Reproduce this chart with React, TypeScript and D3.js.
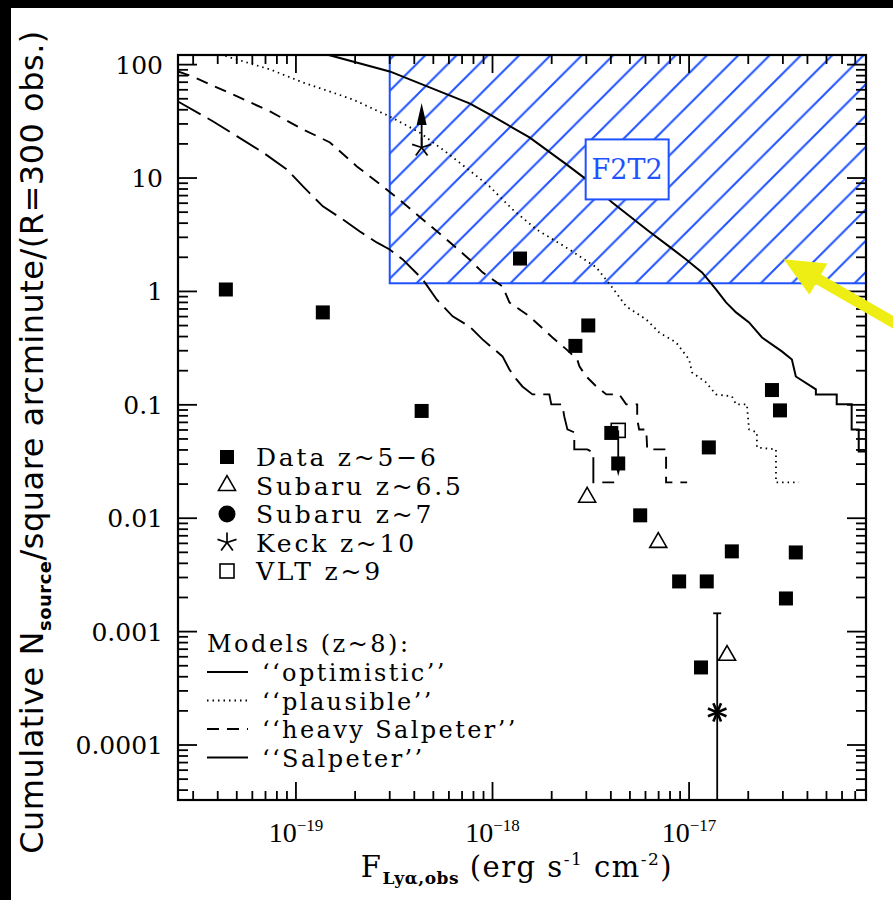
import React from "react";
import * as d3 from "d3";

const W = 893;
const H = 900;
// plot frame in px
const PL = 178;
const PR = 866;
const PT = 55;
const PB = 800;

const fluxDomain = [10 ** -19.6, 10 ** -16.1];
const countDomain = [10 ** -4.485, 10 ** 2.085];

// observed points
const dataFlux = [4.4e-20, 1.37e-19, 4.36e-19, 1.38e-18, 2.64e-18, 3.07e-18, 4.02e-18, 4.36e-18, 5.64e-18, 8.9e-18, 1.23e-17, 1.26e-17, 1.65e-17, 2.64e-17, 2.9e-17, 3.11e-17, 3.49e-17, 1.15e-17];
const dataN = [1.04, 0.653, 0.0883, 1.95, 0.331, 0.501, 0.0565, 0.0304, 0.0106, 0.00277, 0.00277, 0.0421, 0.0051, 0.135, 0.0893, 0.00196, 0.00499, 0.000483];

const subaru65Flux = [3.03e-18, 6.97e-18, 1.56e-17];
const subaru65N = [0.0153, 0.00612, 0.000617];

const keckFlux = 4.36e-19;
const keckN = 18.6;
const keckArrowTo = 46;

const vltFlux = 4.36e-18;
const vltN = 0.0595;
const vltArrowTo = 0.0234;

const burstFlux = 1.39e-17;
const burstN = 0.000194;
const burstErrHigh = 0.00145;

// F2T2 survey region
const f2t2MinFlux = 3.0e-19;
const f2t2MinN = 1.18;
const f2t2LabelAt = [10 ** -17.315, 10 ** 1.076];
const arrowTipAt = [3.03e-17, 1.92];

// model curves, [log10 F, log10 N]
const optimistic = [
  [-18.843, 2.09], [-18.523, 1.94], [-18.117, 1.658], [-18.015, 1.561], [-17.812, 1.358],
  [-17.624, 1.12], [-17.523, 0.988], [-17.391, 0.785], [-17.203, 0.529], [-17.102, 0.397],
  [-17.015, 0.282], [-16.934, 0.168], [-16.863, 0.018], [-16.812, -0.097], [-16.761, -0.185],
  [-16.695, -0.273], [-16.629, -0.406], [-16.528, -0.529], [-16.477, -0.6], [-16.457, -0.75],
  [-16.355, -0.864], [-16.355, -0.908], [-16.249, -0.908], [-16.249, -0.996], [-16.173, -0.996],
  [-16.173, -1.217], [-16.137, -1.217], [-16.137, -1.411], [-16.1, -1.411],
];
const plausible = [
  [-19.386, 2.09], [-19.132, 1.958], [-18.964, 1.843], [-18.711, 1.693], [-18.523, 1.543],
  [-18.371, 1.402], [-18.234, 1.226], [-18.117, 1.067], [-18.015, 0.926], [-17.898, 0.723],
  [-17.777, 0.547], [-17.609, 0.37], [-17.472, 0.212], [-17.391, 0.035], [-17.32, -0.132],
  [-17.218, -0.247], [-17.152, -0.362], [-17.066, -0.45], [-17.0, -0.6], [-16.985, -0.714],
  [-16.914, -0.802], [-16.863, -0.908], [-16.782, -0.926], [-16.761, -0.996], [-16.706, -0.996],
  [-16.695, -1.217], [-16.655, -1.243], [-16.655, -1.376], [-16.558, -1.393], [-16.558, -1.684],
  [-16.442, -1.684],
];
const heavySalpeter = [
  [-19.6, 1.94], [-19.528, 1.896], [-19.299, 1.72], [-19.132, 1.587], [-18.964, 1.429],
  [-18.827, 1.314], [-18.69, 1.102], [-18.558, 0.926], [-18.457, 0.785], [-18.355, 0.635],
  [-18.234, 0.459], [-18.117, 0.282], [-18.051, 0.168], [-17.949, 0.044], [-17.914, -0.097],
  [-17.812, -0.22], [-17.695, -0.406], [-17.624, -0.511], [-17.569, -0.6], [-17.558, -0.661],
  [-17.523, -0.75], [-17.472, -0.838], [-17.421, -0.908], [-17.355, -0.908], [-17.32, -0.996],
  [-17.264, -0.996], [-17.264, -1.129], [-17.254, -1.217], [-17.218, -1.217], [-17.213, -1.393],
  [-17.117, -1.393], [-17.117, -1.684], [-17.01, -1.684],
];
const salpeter = [
  [-19.6, 1.675], [-19.421, 1.499], [-19.299, 1.367], [-19.168, 1.226], [-19.046, 1.076],
  [-18.964, 0.926], [-18.863, 0.75], [-18.761, 0.635], [-18.675, 0.529], [-18.589, 0.432],
  [-18.523, 0.37], [-18.457, 0.282], [-18.355, 0.106], [-18.284, -0.071], [-18.203, -0.22],
  [-18.117, -0.309], [-18.051, -0.423], [-17.949, -0.573], [-17.914, -0.688], [-17.878, -0.776],
  [-17.848, -0.838], [-17.797, -0.908], [-17.711, -0.908], [-17.701, -0.996], [-17.645, -0.996],
  [-17.635, -1.102], [-17.619, -1.217], [-17.584, -1.243], [-17.584, -1.393], [-17.518, -1.393],
  [-17.487, -1.42], [-17.487, -1.684], [-17.381, -1.684],
];

const yTickLabels = ["0.0001", "0.001", "0.01", "0.1", "1", "10", "100"];
const xTickExps = [-19, -18, -17];

const legendPoints = ["Data z~5\u22126", "Subaru z~6.5", "Subaru z~7", "Keck z~10", "VLT z~9"];
const legendPointSymbols = ["square", "triangle", "circle", "star", "openSquare"];
const legendModels = ["\u2018\u2018optimistic\u2019\u2019", "\u2018\u2018plausible\u2019\u2019", "\u2018\u2018heavy Salpeter\u2019\u2019", "\u2018\u2018Salpeter\u2019\u2019"];

const BLUE = "#1f52ff";
const serif = "'DejaVu Serif', serif";
const times = "'Liberation Serif', serif";
const sans = "'DejaVu Sans', sans-serif";

const modelStyles = [
  { data: optimistic, dash: "none", width: 2 },
  { data: plausible, dash: "1.5,4", width: 1.8 },
  { data: heavySalpeter, dash: "12,8", width: 1.9 },
  { data: salpeter, dash: "26,8", width: 1.9 },
];

function Symbol({ kind, cx, cy }: { kind: string; cx: number; cy: number }) {
  if (kind === "square") return <rect x={cx - 7} y={cy - 7} width={14} height={14} fill="#000" />;
  if (kind === "openSquare")
    return <rect x={cx - 7} y={cy - 7} width={14} height={14} fill="none" stroke="#000" strokeWidth={1.6} />;
  if (kind === "circle") return <circle cx={cx} cy={cy} r={8.5} fill="#000" />;
  if (kind === "triangle") {
    const s = 17;
    const pts = [[cx, cy - s * 0.58], [cx + s / 2, cy + s * 0.29], [cx - s / 2, cy + s * 0.29]];
    return <polygon points={pts.map((p) => p.join(",")).join(" ")} fill="none" stroke="#000" strokeWidth={1.6} />;
  }
  if (kind === "star") {
    return (
      <g stroke="#000" strokeWidth={1.7}>
        {d3.range(5).map((i) => {
          const a = -Math.PI / 2 + (i * 2 * Math.PI) / 5;
          return <line key={i} x1={cx} y1={cy} x2={cx + 10 * Math.cos(a)} y2={cy + 10 * Math.sin(a)} />;
        })}
      </g>
    );
  }
  // 8-armed asterisk
  return (
    <g stroke="#000" strokeWidth={2.6}>
      {d3.range(8).map((i) => {
        const a = (i * Math.PI) / 4 + Math.PI / 8;
        return <line key={i} x1={cx} y1={cy} x2={cx + 10 * Math.cos(a)} y2={cy + 10 * Math.sin(a)} />;
      })}
    </g>
  );
}

export default function App() {
  const x = d3.scaleLog().domain(fluxDomain).range([PL, PR]);
  const y = d3.scaleLog().domain(countDomain).range([PB, PT]);
  const line = d3
    .line<number[]>()
    .x((d) => x(10 ** d[0]))
    .y((d) => y(10 ** d[1]));

  const xMinor: number[] = [];
  for (let e = -20; e <= -17; e++)
    for (let m = 2; m <= 9; m++) {
      const v = m * 10 ** e;
      if (v > fluxDomain[0] && v < fluxDomain[1]) xMinor.push(v);
    }
  const yMajor = d3.range(-4, 3).map((e) => 10 ** e);
  const yMinor: number[] = [];
  for (let e = -5; e <= 2; e++)
    for (let m = 2; m <= 9; m++) {
      const v = m * 10 ** e;
      if (v > countDomain[0] && v < countDomain[1]) yMinor.push(v);
    }
  const xMajor = xTickExps.map((e) => 10 ** e);

  const bx = x(f2t2MinFlux);
  const by = y(f2t2MinN);

  // yellow arrow geometry
  const tipX = x(arrowTipAt[0]);
  const tipY = y(arrowTipAt[1]);
  const ux = 0.867, uy = 0.498;
  const px = -uy, py = ux;
  const headL = 40, headW = 18, shaftW = 5.5, shaftL = 170;
  const bcx = tipX + headL * ux, bcy = tipY + headL * uy;
  const arrowPts = [
    [tipX, tipY],
    [bcx + headW * px, bcy + headW * py],
    [bcx + shaftW * px, bcy + shaftW * py],
    [tipX + shaftL * ux + shaftW * px, tipY + shaftL * uy + shaftW * py],
    [tipX + shaftL * ux - shaftW * px, tipY + shaftL * uy - shaftW * py],
    [bcx - shaftW * px, bcy - shaftW * py],
    [bcx - headW * px, bcy - headW * py],
  ];

  const kx = x(keckFlux);
  const ky = y(keckN);
  const kTop = y(keckArrowTo);
  const vx = x(vltFlux);
  const vy = y(vltN);
  const vBot = y(vltArrowTo);
  const ax = x(burstFlux);
  const ay = y(burstN);
  const aTop = y(burstErrHigh);

  const lx = x(f2t2LabelAt[0]);
  const ly = y(f2t2LabelAt[1]);

  return (
    <div style={{ position: "fixed", left: 0, top: 0 }}>
      <svg width={W} height={H} style={{ display: "block" }}>
        <defs>
          <pattern id="hatch" patternUnits="userSpaceOnUse" width={31.3} height={31.3} patternTransform="translate(11.1,0)">
            <path d="M-8,8 L8,-8 M0,31.3 L31.3,0 M23.3,39.3 L39.3,23.3" stroke={BLUE} strokeWidth={2} />
          </pattern>
          <clipPath id="plot">
            <rect x={PL} y={PT} width={PR - PL} height={PB - PT} />
          </clipPath>
        </defs>
        <rect width={W} height={H} fill="#000" />
        <rect x={11} y={8} width={W - 11} height={H - 8} fill="#fff" />

        {/* F2T2 region */}
        <rect x={bx} y={PT} width={PR - bx} height={by - PT} fill="url(#hatch)" stroke={BLUE} strokeWidth={2} />

        {/* models */}
        <g clipPath="url(#plot)" fill="none" stroke="#000">
          {modelStyles.map((m, i) => (
            <path key={i} d={line(m.data) || ""} strokeWidth={m.width} strokeDasharray={m.dash} />
          ))}
        </g>

        {/* F2T2 label */}
        <rect x={lx - 41.5} y={ly - 30} width={83} height={60} fill="#fff" stroke={BLUE} strokeWidth={2} />
        <text x={lx} y={ly + 10} textAnchor="middle" fontFamily={serif} fontSize={27} fill={BLUE}>
          F2T2
        </text>

        {/* data */}
        {dataFlux.map((f, i) => (
          <Symbol key={"d" + i} kind="square" cx={x(f)} cy={y(dataN[i])} />
        ))}
        {subaru65Flux.map((f, i) => (
          <Symbol key={"s" + i} kind="triangle" cx={x(f)} cy={y(subaru65N[i])} />
        ))}
        <Symbol kind="star" cx={kx} cy={ky} />
        <line x1={kx} y1={ky} x2={kx} y2={kTop + 12} stroke="#000" strokeWidth={1.8} />
        <polygon points={`${kx},${kTop} ${kx - 5},${kTop + 22} ${kx + 5},${kTop + 22}`} fill="#000" />
        <Symbol kind="openSquare" cx={vx} cy={vy} />
        <line x1={vx} y1={vy} x2={vx} y2={vBot - 8} stroke="#000" strokeWidth={1.8} />
        <polygon points={`${vx},${vBot} ${vx - 4.5},${vBot - 18} ${vx + 4.5},${vBot - 18}`} fill="#000" />
        <line x1={ax} y1={aTop} x2={ax} y2={PB} stroke="#000" strokeWidth={1.8} />
        <line x1={ax - 4} y1={aTop} x2={ax + 4} y2={aTop} stroke="#000" strokeWidth={1.8} />
        <Symbol kind="asterisk" cx={ax} cy={ay} />

        {/* frame and ticks */}
        <g stroke="#000" strokeWidth={1.8}>
          {xMajor.map((v, i) => (
            <g key={"xM" + i}>
              <line x1={x(v)} x2={x(v)} y1={PB} y2={PB - 18} />
              <line x1={x(v)} x2={x(v)} y1={PT} y2={PT + 18} />
            </g>
          ))}
          {xMinor.map((v, i) => (
            <g key={"xm" + i}>
              <line x1={x(v)} x2={x(v)} y1={PB} y2={PB - 9} />
              <line x1={x(v)} x2={x(v)} y1={PT} y2={PT + 9} />
            </g>
          ))}
          {yMajor.map((v, i) => (
            <g key={"yM" + i}>
              <line x1={PL} x2={PL + 19} y1={y(v)} y2={y(v)} />
              <line x1={PR} x2={PR - 19} y1={y(v)} y2={y(v)} />
            </g>
          ))}
          {yMinor.map((v, i) => (
            <g key={"ym" + i}>
              <line x1={PL} x2={PL + 10} y1={y(v)} y2={y(v)} />
              <line x1={PR} x2={PR - 10} y1={y(v)} y2={y(v)} />
            </g>
          ))}
          <rect x={PL} y={PT} width={PR - PL} height={PB - PT} fill="none" strokeWidth={2.2} />
        </g>

        {/* tick labels */}
        {yMajor.map((v, i) => (
          <text key={"yl" + i} x={163} y={y(v) + 9} textAnchor="end" fontFamily={serif} fontSize={25}>
            {yTickLabels[i]}
          </text>
        ))}
        {xMajor.map((v, i) => (
          <text key={"xl" + i} x={x(v)} y={842} textAnchor="middle" fontFamily={times} fontSize={28}>
            10
            <tspan fontSize={17} dy={-11}>
              {"\u2212" + Math.abs(xTickExps[i])}
            </tspan>
          </text>
        ))}

        {/* axis titles */}
        <text x={517} y={877} textAnchor="middle" fontFamily={serif} fontSize={29} letterSpacing={1.5}>
          F
          <tspan fontSize={17} fontWeight="bold" letterSpacing={0.5} dy={7}>
            Ly{"\u03b1"},obs
          </tspan>
          <tspan dy={-7}> (erg s</tspan>
          <tspan fontSize={17} dy={-12}>
            -1
          </tspan>
          <tspan dy={12}> cm</tspan>
          <tspan fontSize={17} dy={-12}>
            -2
          </tspan>
          <tspan dy={12}>)</tspan>
        </text>
        <text transform="translate(43,442) rotate(-90)" textAnchor="middle" fontFamily={sans} fontSize={32} letterSpacing={0.5}>
          Cumulative N
          <tspan fontSize={18} fontWeight="bold" dy={8}>
            source
          </tspan>
          <tspan dy={-8}>/square arcminute/(R=300 obs.)</tspan>
        </text>

        {/* legend */}
        {legendPoints.map((t, i) => (
          <g key={"lp" + i}>
            <Symbol kind={legendPointSymbols[i]} cx={227} cy={457 + i * 28.5} />
            <text x={256} y={466 + i * 28.5} fontFamily={serif} fontSize={25} letterSpacing={2.8}>
              {t}
            </text>
          </g>
        ))}
        <text x={207} y={652} fontFamily={serif} fontSize={24} letterSpacing={2.5}>
          Models (z~8):
        </text>
        {legendModels.map((t, i) => (
          <g key={"lm" + i}>
            <line
              x1={207}
              x2={248}
              y1={672 + i * 28.5}
              y2={672 + i * 28.5}
              stroke="#000"
              strokeWidth={1.8}
              strokeDasharray={modelStyles[i].dash === "26,8" ? "none" : modelStyles[i].dash}
            />
            <text x={262} y={681 + i * 28.5} fontFamily={serif} fontSize={24} letterSpacing={2.4}>
              {t}
            </text>
          </g>
        ))}

        {/* yellow pointer */}
        <polygon points={arrowPts.map((p) => p.join(",")).join(" ")} fill="#eeee14" />
      </svg>
    </div>
  );
}
